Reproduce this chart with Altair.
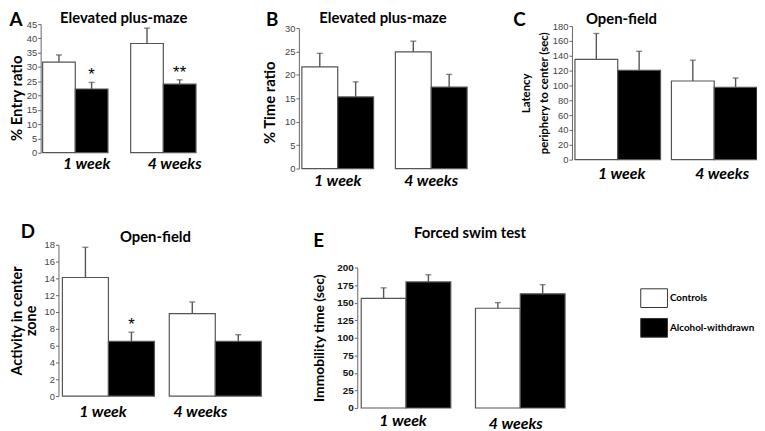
import altair as alt
import pandas as pd

weeks = ["1 week", "4 weeks"]
groups = ["Controls", "Alcohol-withdrawn"]

# Panel A - Elevated plus-maze, % entry ratio
a_ctrl = [31.7, 38.2]
a_ctrl_hi = [34.2, 43.6]
a_alc = [22.3, 24.0]
a_alc_hi = [24.6, 25.5]
a_sig = ["*", "**"]

# Panel B - Elevated plus-maze, % time ratio
b_ctrl = [21.7, 24.9]
b_ctrl_hi = [24.6, 27.2]
b_alc = [15.3, 17.4]
b_alc_hi = [18.5, 20.1]
b_sig = ["", ""]

# Panel C - Open-field, latency periphery to center (sec)
c_ctrl = [135, 106]
c_ctrl_hi = [170, 134]
c_alc = [120.5, 97.5]
c_alc_hi = [146, 110]
c_sig = ["", ""]

# Panel D - Open-field, activity in center zone
d_ctrl = [14.1, 9.8]
d_ctrl_hi = [17.7, 11.2]
d_alc = [6.5, 6.5]
d_alc_hi = [7.6, 7.3]
d_sig = ["*", ""]

# Panel E - Forced swim test, immobility time (sec)
e_ctrl = [156, 142]
e_ctrl_hi = [171, 150]
e_alc = [179.4, 162.5]
e_alc_hi = [189.7, 175.6]
e_sig = ["", ""]

TITLE_FONT = "Lato"
TICK_FONT = "Liberation Sans"


def frame(ctrl, ctrl_hi, alc, alc_hi, sig):
    rows = []
    for i, w in enumerate(weeks):
        rows.append(dict(week=w, group=groups[0], value=ctrl[i], upper=ctrl_hi[i], sig=""))
        rows.append(dict(week=w, group=groups[1], value=alc[i], upper=alc_hi[i], sig=sig[i]))
    return pd.DataFrame(rows)


fill_enc = alt.Fill(
    "group:N",
    sort=groups,
    scale=alt.Scale(domain=groups, range=["white", "black"]),
    legend=alt.Legend(
        orient="none", legendX=631, legendY=265, title=None,
        symbolType="M-1,-0.7L1,-0.7L1,0.7L-1,0.7Z", symbolSize=729,
        symbolStrokeColor="#333", symbolStrokeWidth=1, symbolOpacity=1,
        labelFont=TITLE_FONT, labelFontSize=10, labelFontWeight="bold",
        labelColor="black", labelOffset=2, rowPadding=4, padding=0,
    ),
)


def per_week(first, second):
    return alt.condition(f"datum.value == '{weeks[1]}'", alt.value(second), alt.value(first))


def panel(df, xr, pin, yr, ymax, ystep, yoff, xoff, ytitle, title_x, title_y,
          title_size, title_weight, line_h, label_dx, label_pad, bold_ticks=False):
    yaxis = alt.Axis(
        orient="left", offset=yoff, values=list(range(0, ymax + 1, ystep)), grid=False,
        title=ytitle, titleFont=TITLE_FONT, titleFontSize=title_size,
        titleFontWeight=title_weight, titleColor="black", titleX=title_x,
        titleAngle=-90, titleBaseline="middle", titleAlign="center",
        titleLineHeight=line_h,
        **({"titleY": title_y} if title_y is not None else {}),
        labelFont=TICK_FONT, labelFontSize=10 if bold_ticks else 9.5,
        labelFontWeight="bold" if bold_ticks else "normal",
        labelColor="#111" if bold_ticks else "#444", labelPadding=1,
        labelOverlap=False, tickSize=3, tickColor="#666", domainColor="#666",
    )
    xaxis = alt.Axis(
        orient="bottom", offset=xoff, domain=False, ticks=False, title=None,
        labelAngle=0, labelFont=TITLE_FONT, labelFontSize=16, labelFontWeight="bold",
        labelFontStyle="italic", labelColor="black",
        labelPadding=per_week(*label_pad), labelOffset=per_week(*label_dx),
        labelBaseline="top",
    )
    xs = alt.Scale(range=xr, paddingInner=pin, paddingOuter=0)
    ys = alt.Scale(domain=[0, ymax], range=yr, nice=False, zero=True)
    x = alt.X("week:N", sort=weeks, scale=xs, axis=xaxis)
    xo = alt.XOffset("group:N", sort=groups)
    base = alt.Chart(df)
    bars = base.mark_bar(stroke="#555", strokeWidth=1.2).encode(
        x=x, xOffset=xo, y=alt.Y("value:Q", scale=ys, axis=yaxis), fill=fill_enc
    )
    err = base.mark_rule(color="#555", strokeWidth=1.4).encode(
        x=x, xOffset=xo, y=alt.Y("value:Q", scale=ys, axis=yaxis), y2="upper:Q"
    )
    cap = base.mark_tick(color="#555", thickness=1.4, size=6).encode(
        x=x, xOffset=xo, y=alt.Y("upper:Q", scale=ys, axis=yaxis)
    )
    stars = base.mark_text(
        font=TICK_FONT, fontSize=17, baseline="alphabetic", dy=-2, color="black"
    ).encode(x=x, xOffset=xo, y=alt.Y("upper:Q", scale=ys, axis=yaxis), text="sig:N")
    return alt.layer(bars, err, cap, stars)


pA = panel(frame(a_ctrl, a_ctrl_hi, a_alc, a_alc_hi, a_sig), [27, 182], 0.258,
           [132, 2], 45, 5, -25, -279, "% Entry ratio", -24, 76.5, 15, "bold", 18,
           (11.5, 11.5), (3, 3))
pB = panel(frame(b_ctrl, b_ctrl_hi, b_alc, b_alc_hi, b_sig), [289, 456], 0.233,
           [148, 6], 30, 5, -286, -263, "% Time  ratio", -30, 81, 15, "bold", 18,
           (0, 0), (4, 4))
pC = panel(frame(c_ctrl, c_ctrl_hi, c_alc, c_alc_hi, c_sig), [565, 749], 0.113,
           [139, 4], 180, 20, -562, -272, ["Latency", "periphery to center (sec)"],
           -46, None, 11.5, "bold", 18, (4, 8), (6, 6))
pD = panel(frame(d_ctrl, d_ctrl_hi, d_alc, d_alc_hi, d_sig), [47, 248], 0.139,
           [378, 225], 18, 2, -43, -33, ["Activity in center", "zone"],
           -41, None, 14.5, "bold", 14, (-5.5, -15), (8, 8))
pE = panel(frame(e_ctrl, e_ctrl_hi, e_alc, e_alc_hi, e_sig), [349, 555], 0.216,
           [390, 248], 200, 25, -345, -21, "Immobility time (sec)",
           -38, None, 14, "bold", 18, (-3, -4.5), (5, 8), bold_ticks=True)

panel_letters = ["A", "B", "C", "D", "E"]
panel_titles = ["Elevated plus-maze", "Elevated plus-maze", "Open-field", "Open-field", "Forced swim test"]

one = pd.DataFrame({"k": [0]})


def label(text, x, y, size, anchor="center"):
    return alt.Chart(one).mark_text(
        text=text, font=TITLE_FONT, fontSize=size, fontWeight="bold", color="black",
        align=anchor, baseline="middle",
    ).encode(x=alt.value(x), y=alt.value(y))


annotations = [
    label(panel_letters[0], 0, -2, 19),
    label(panel_letters[1], 259, -2, 19),
    label(panel_letters[2], 509, -2, 19),
    label(panel_letters[3], 12, 212, 19),
    label(panel_letters[4], 306, 221, 19),
    label(panel_titles[0], 109, -4, 15),
    label(panel_titles[1], 371, -4, 15),
    label(panel_titles[2], 612, -3, 15),
    label(panel_titles[3], 141, 217, 15),
    label(panel_titles[4], 459, 213, 15),
]

chart = (
    alt.layer(pA, pB, pC, pD, pE, *annotations)
    .resolve_scale(x="independent", y="independent", xOffset="independent")
    .resolve_axis(x="independent", y="independent")
    .properties(
        width=749, height=411,
        padding={"left": 8, "top": 12, "right": 0, "bottom": 0},
        autosize=alt.AutoSizeParams(type="none"),
    )
    .configure_view(stroke=None)
)

chart.save("out.html", embed_options={"renderer": "svg", "actions": False})
